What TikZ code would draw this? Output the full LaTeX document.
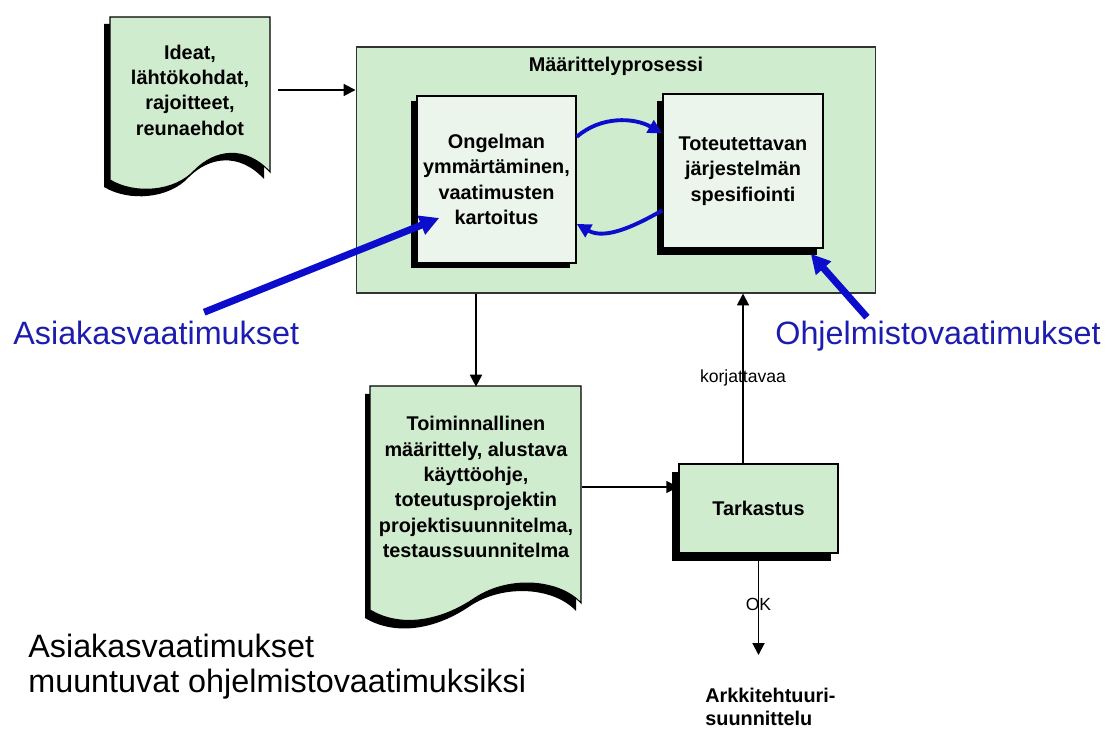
\documentclass[tikz,border=0pt]{standalone}
\usepackage{fontspec}
\setmainfont{Liberation Sans}
\usetikzlibrary{
        arrows.meta,
        calc,
        positioning,
        shadows
    }
\definecolor{mint}{RGB}{208,236,206}
\definecolor{palemint}{RGB}{236,245,236}
\definecolor{reqblue}{RGB}{12,12,205}
\definecolor{labelblue}{RGB}{28,28,175}
\tikzset{
    boxtext/.style={font=\bfseries\fontsize{11.3}{14.4}\selectfont,align=center},
    smalltext/.style={font=\fontsize{10}{12}\selectfont,inner sep=0pt},
    bluetext/.style={font=\fontsize{18.4}{22}\selectfont,text=labelblue,anchor=base west,inner sep=0pt},
    shadowbox/.style={rectangle,draw=black,line width=0.9pt,fill=palemint,boxtext,inner sep=0pt},
    arr/.style={-{Triangle[length=6.8pt,width=6.8pt]},line width=1.1pt},
    bluebend/.style={draw=reqblue,line width=2.2pt,-{Triangle[length=8pt,width=8pt]}},
    bluethick/.style={draw=reqblue,line width=4pt,-{Triangle[length=11pt,width=11pt]}}
}

\begin{document}
\begin{tikzpicture}[x=0.02cm,y=-0.02cm]
                \useasboundingbox (0,0) rectangle (1106,729);
                \node[rectangle,draw=black!80,line width=0.6pt,fill=mint,minimum width=10.4cm,minimum height=4.92cm] (proc) at (616,170) {};
                \node[boxtext,anchor=base] (title) at ([yshift=-0.5cm]proc.north) {Määrittelyprosessi};
                \node[shadowbox,minimum width=3.18cm,minimum height=3.34cm,
                    general shadow={fill=black,shadow xshift=-0.12cm,shadow yshift=-0.1cm}]
                    (probl) at (496.5,179.5) {Ongelman\\ymmärtäminen,\\vaatimusten\\kartoitus};
                \node[shadowbox,minimum width=3.2cm,minimum height=3.08cm,
                    general shadow={fill=black,shadow xshift=-0.12cm,shadow yshift=-0.14cm}]
                    (sysspec) at (743,171) {Toteutettavan\\järjestelmän\\spesifiointi};
                \node[shadowbox,fill=mint,minimum width=3.18cm,minimum height=1.78cm,
                    general shadow={fill=black,shadow xshift=-0.14cm,shadow yshift=-0.16cm}]
                    (check) at (758.5,508.5) {Tarkastus};

                \path[fill=black,shift={(-6,7)}] (110,17) -- (270,17) -- (270,172)
                    .. controls (245,145) and (215,150) .. (195,170)
                    .. controls (175,192) and (135,195) .. (110,180) -- cycle;
                \path[fill=mint,draw=black,line width=0.6pt] (110,17) -- (270,17) -- (270,172)
                    .. controls (245,145) and (215,150) .. (195,170)
                    .. controls (175,192) and (135,195) .. (110,180) -- cycle;
                \node[boxtext,minimum width=3.2cm,minimum height=2.8cm] (ideas) at (190,90)
                    {Ideat,\\lähtökohdat,\\rajoitteet,\\reunaehdot};

                \path[fill=black,shift={(-5,8)}] (370,386) -- (581,386) -- (581,603)
                    .. controls (560,580) and (510,575) .. (475,598)
                    .. controls (440,622) and (400,628) .. (370,610) -- cycle;
                \path[fill=mint,draw=black,line width=0.6pt] (370,386) -- (581,386) -- (581,603)
                    .. controls (560,580) and (510,575) .. (475,598)
                    .. controls (440,622) and (400,628) .. (370,610) -- cycle;
                \node[boxtext,minimum width=4.22cm,minimum height=4cm] (funcdoc) at (476,487)
                    {Toiminnallinen\\määrittely, alustava\\käyttöohje,\\toteutusprojektin\\projektisuunnitelma,\\testaussuunnitelma};

                \node[boxtext,font=\bfseries\fontsize{11.3}{13.2}\selectfont,align=left,anchor=north west,inner sep=0pt]
                    (arch) at (705,688) {Arkkitehtuuri-\\suunnittelu};
                \node[bluetext] (asiak) at (13,345) {Asiakasvaatimukset};
                \node[bluetext] (ohj) at (775,345) {Ohjelmistovaatimukset};
                \node[font=\fontsize{18.4}{19.8}\selectfont,align=left,anchor=north west,inner sep=0pt]
                    (summary) at (28,633.5) {Asiakasvaatimukset\\muuntuvat ohjelmistovaatimuksiksi};

                \coordinate (up) at ([xshift=-0.31cm]check.north);
                \coordinate (okend) at (758.5,655);
                \draw[arr] ([xshift=0.16cm]ideas.east) -- (ideas.east -| proc.west);
                \draw[arr] (proc.south -| funcdoc.north) -- (funcdoc.north);
                \draw[arr] (funcdoc.east) -- (funcdoc.east -| check.west);
                \draw[arr] (up) -- node[smalltext] {korjattavaa} (up |- proc.south);
                \draw[arr] (check.south) -- node[smalltext] {OK} (okend);

                \draw[bluebend] (probl.28) .. controls +(24,-21) and +(-28,-16) .. (sysspec.155);
                \draw[bluebend] (sysspec.206) .. controls +(-28,16) and +(28,16) .. (probl.331);
                \draw[bluethick] ([xshift=0.96cm,yshift=0.18cm]asiak.north) -- ([xshift=0.46cm,yshift=-0.77cm]probl.west);
                \draw[bluethick] ([xshift=-1.42cm,yshift=0.08cm]ohj.north) -- ([xshift=-0.26cm,yshift=-0.1cm]sysspec.south east);
            \end{tikzpicture}
\end{document}
